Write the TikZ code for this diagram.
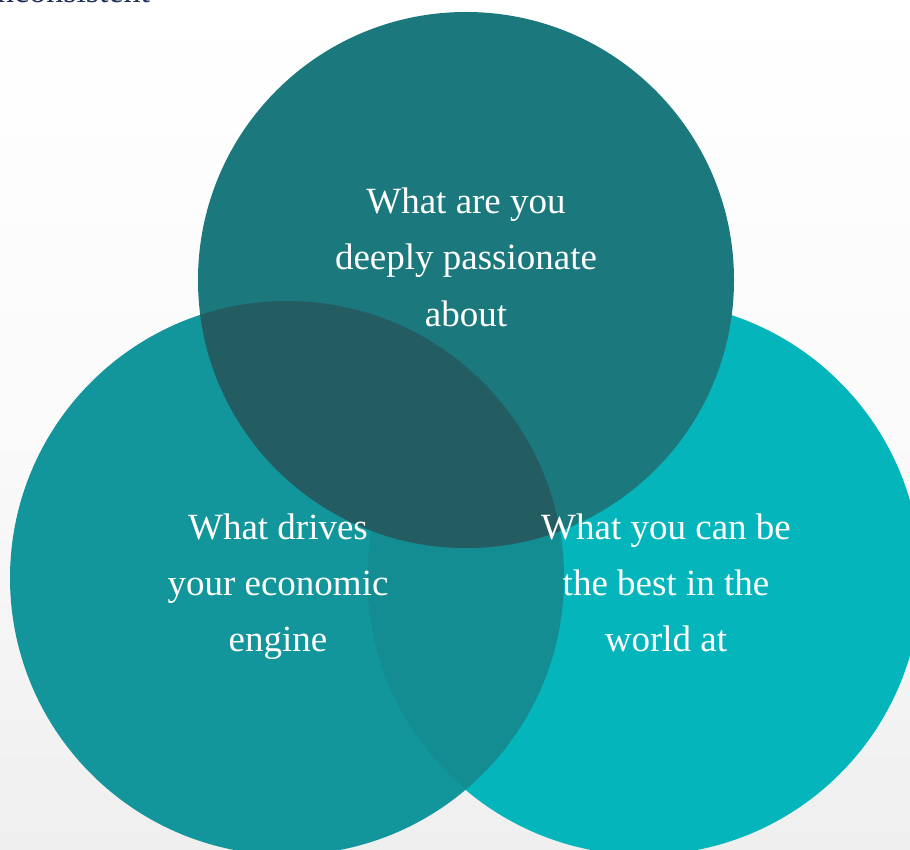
\documentclass[tikz,border=0pt]{standalone}
\usepackage{fontspec}
\setmainfont{Liberation Serif}
\definecolor{bgBottom}{HTML}{EFEFEF}
\definecolor{topC}{HTML}{1B797D}
\definecolor{leftC}{HTML}{12959B}
\definecolor{rightC}{HTML}{05B5BC}
\definecolor{lrC}{HTML}{138D92}
\definecolor{tlC}{HTML}{235D62}
\definecolor{navy}{HTML}{1F3159}
\tikzset{
  vennlabel/.style={text=white, align=center, inner sep=0pt, anchor=base,
    font={\fontsize{37pt}{56pt}\selectfont}},
  cutlabel/.style={text=navy, inner sep=0pt, anchor=base west,
    font={\fontsize{34pt}{40pt}\selectfont}}
}
\begin{document}
\begin{tikzpicture}[x=1pt,y=-1pt]
  \useasboundingbox (0,0) rectangle (910,850);
  \clip (0,0) rectangle (910,850);
  \shade[top color=white, bottom color=bgBottom, middle color=white!70!bgBottom] (0,0) rectangle (910,850);
  % circles
  \fill[leftC] (287,578) circle (277);
  \fill[rightC] (644,578) circle (277);
  \begin{scope}
    \clip (287,578) circle (277);
    \fill[lrC] (644,578) circle (277);
  \end{scope}
  \fill[topC] (466,280) circle (268);
  \begin{scope}
    \clip (466,280) circle (268);
    \fill[tlC] (287,578) circle (277);
  \end{scope}
  % labels
  \node[cutlabel] (cut) at (-3,3) {nconsistent};
  \node[vennlabel] (toplabel) at (466,326) {What are you\\deeply passionate\\about};
  \node[vennlabel] (leftlabel) at (278,651) {What drives\\your economic\\engine};
  \node[vennlabel] (rightlabel) at (666,651) {What you can be\\the best in the\\world at};
\end{tikzpicture}
\end{document}
